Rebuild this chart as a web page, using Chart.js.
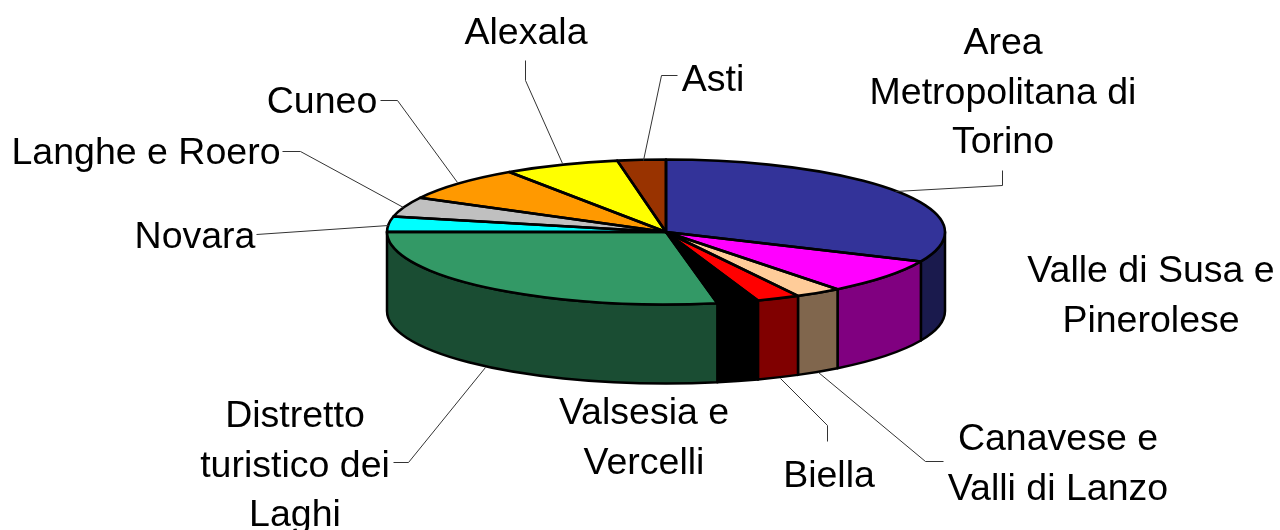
<!DOCTYPE html>
<html>
<head>
<meta charset="utf-8">
<style>html,body{margin:0;padding:0;background:#fff}canvas{display:block}</style>
<script src="https://cdn.jsdelivr.net/npm/chart.js@4"></script>
</head>
<body>
<canvas id="c" width="1280" height="530"></canvas>
<script>
const categories = ["Area Metropolitana di Torino","Valle di Susa e Pinerolese","Canavese e Valli di Lanzo","Biella","Valsesia e Vercelli","Distretto turistico dei Laghi","Novara","Langhe e Roero","Cuneo","Alexala","Asti"];
const shares = [31.7,7.8,2.7,2.5,2.4,28.0,3.4,4.4,7.7,6.7,2.8];
const topColors = ["#333399","#FF00FF","#FFCC99","#FF0000","#000000","#339966","#00FFFF","#C0C0C0","#FF9900","#FFFF00","#993300"];
const sideColors = ["#1A1A4D","#800080","#80664D","#800000","#000000","#1A4D33","#008080","#606060","#804D00","#808000","#4D1A00"];

/* text lines and leader lines, one entry per category */
const labelLines = [["Area","Metropolitana di","Torino"],["Valle di Susa e","Pinerolese"],["Canavese e","Valli di Lanzo"],["Biella"],["Valsesia e","Vercelli"],["Distretto","turistico dei","Laghi"],["Novara"],["Langhe e Roero"],["Cuneo"],["Alexala"],["Asti"]];
const labelAnchors = [[1003,44],[1151,272],[1058,440],[829,477],[644,414],[295,417],[195,238],[146,154],[322,103],[526,34],[713,81]];
const leaders = [
  [[895,191],[1002,185],[1002,170]],
  [],
  [[818,372],[925,461],[943,461]],
  [[780,378],[827,425],[827,441]],
  [],
  [[485,367],[408,462],[393,462]],
  [[388,225],[256,234]],
  [[403,207],[300,151],[282,151]],
  [[457,182],[397,100],[380,100]],
  [[562,163],[525,80],[525,60]],
  [[643,160],[661,75],[677,75]]
];

const centre = {x:666,y:232}, radiusX = 279, radiusY = 72.5, depth = 79, lineHeight = 49.3;

const pie3d = {
  id:'pie3d',
  beforeDatasetsDraw(chart){
    const ctx = chart.ctx, arcs = chart.getDatasetMeta(0).data;
    ctx.save();
    ctx.lineWidth = 2.5; ctx.strokeStyle = '#000'; ctx.lineJoin = 'round';
    arcs.forEach((el,i)=>{
      const s = Math.max(el.startAngle,0), e = Math.min(el.endAngle,Math.PI);
      if(e<=s) return;
      ctx.beginPath();
      ctx.ellipse(centre.x,centre.y,radiusX,radiusY,0,s,e,false);
      ctx.ellipse(centre.x,centre.y+depth,radiusX,radiusY,0,e,s,true);
      ctx.closePath();
      ctx.fillStyle = sideColors[i];
      ctx.fill(); ctx.stroke();
    });
    ctx.restore();
    const el0 = arcs[0];
    ctx.save();
    ctx.translate(centre.x,centre.y);
    ctx.scale(1,radiusY/radiusX);
    ctx.translate(-el0.x,-el0.y);
  },
  afterDatasetsDraw(chart){
    const ctx = chart.ctx, arcs = chart.getDatasetMeta(0).data;
    ctx.restore();
    ctx.save();
    ctx.lineWidth = 2.6; ctx.strokeStyle = '#000'; ctx.lineJoin = 'round';
    arcs.forEach(el=>{
      ctx.beginPath();
      ctx.moveTo(centre.x,centre.y);
      ctx.ellipse(centre.x,centre.y,radiusX,radiusY,0,el.startAngle,el.endAngle,false);
      ctx.closePath();
      ctx.stroke();
    });
    ctx.restore();
  },
  afterDraw(chart){
    const ctx = chart.ctx;
    ctx.save();
    ctx.strokeStyle = '#333'; ctx.lineWidth = 1;
    leaders.forEach(pts=>{
      if(!pts.length) return;
      ctx.beginPath();
      pts.forEach((p,j)=> j? ctx.lineTo(p[0]+.5,p[1]+.5) : ctx.moveTo(p[0]+.5,p[1]+.5));
      ctx.stroke();
    });
    ctx.fillStyle = '#000';
    ctx.font = '37.5px "Liberation Sans", Arial, sans-serif';
    ctx.textAlign = 'center'; ctx.textBaseline = 'middle';
    labelLines.forEach((lines,i)=>{
      lines.forEach((t,j)=> ctx.fillText(t,labelAnchors[i][0],labelAnchors[i][1]+j*lineHeight));
    });
    ctx.restore();
  }
};

new Chart(document.getElementById('c'),{
  type:'pie',
  data:{labels:categories,datasets:[{data:shares,backgroundColor:topColors,borderWidth:0,clip:false}]},
  options:{
    responsive:false,animation:false,
    radius:radiusX,
    layout:{padding:0},
    events:[],
    plugins:{legend:{display:false},tooltip:{enabled:false}}
  },
  plugins:[pie3d]
});
</script>
</body>
</html>
